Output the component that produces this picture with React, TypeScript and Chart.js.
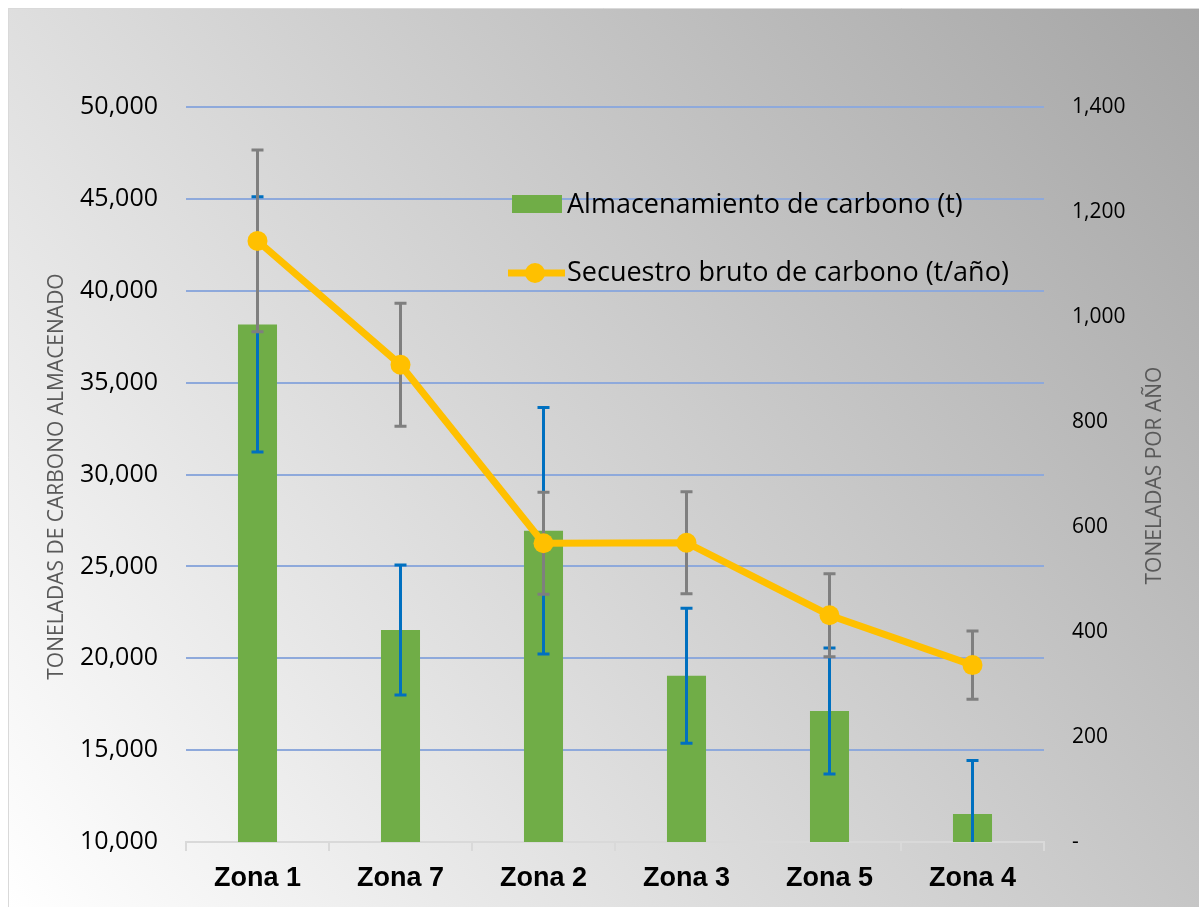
import React, { useEffect, useRef } from 'react';
import { Chart, registerables } from 'chart.js';

Chart.register(...registerables);

const categories = ['Zona 1', 'Zona 7', 'Zona 2', 'Zona 3', 'Zona 5', 'Zona 4'];
const storageValues = [38170, 21540, 26940, 19050, 17130, 11520];
const storageErrors = [6950, 3540, 6710, 3670, 3430, 2920];
const sequestrationValues = [1145, 909, 569, 570, 432, 337];
const sequestrationErrors = [173, 117, 97, 97, 79, 65];
const storageLabel = 'Almacenamiento de carbono (t)';
const sequestrationLabel = 'Secuestro bruto de carbono (t/año)';
const leftAxisTitle = 'TONELADAS DE CARBONO ALMACENADO';
const rightAxisTitle = 'TONELADAS POR AÑO';
const leftTickRange = [10000, 50000, 5000];
const rightTickRange = [0, 1400, 200];

const GREEN = '#70AD47';
const GOLD = '#FFC000';
const BLUE_ERR = '#0070C0';
const GREY_ERR = '#7F7F7F';
const SANS = '"Open Sans", "Liberation Sans", sans-serif';

const backgroundPlugin = {
  id: 'panelBackground',
  beforeDraw(chart: any) {
    const { ctx, width, height } = chart;
    ctx.save();
    const g = ctx.createLinearGradient(0, height, width, 0);
    g.addColorStop(0, '#FFFFFF');
    g.addColorStop(1, '#A5A5A5');
    ctx.fillStyle = g;
    ctx.fillRect(0, 0, width, height);
    ctx.strokeStyle = '#D9D9D9';
    ctx.lineWidth = 1;
    ctx.beginPath();
    ctx.moveTo(0.5, height);
    ctx.lineTo(0.5, 0.5);
    ctx.lineTo(width, 0.5);
    ctx.stroke();
    ctx.restore();
  },
};

const errorBarsPlugin = {
  id: 'errorBars',
  afterDatasetDraw(chart: any, args: any) {
    if (args.index !== 0) return;
    const { ctx, chartArea } = chart;
    ctx.save();
    ctx.beginPath();
    ctx.rect(chartArea.left, chartArea.top, chartArea.right - chartArea.left, chartArea.bottom - chartArea.top);
    ctx.clip();
    const draw = (dsIndex: number, values: number[], errors: number[], scaleId: string, color: string) => {
      const meta = chart.getDatasetMeta(dsIndex);
      const scale = chart.scales[scaleId];
      ctx.strokeStyle = color;
      ctx.lineWidth = 3;
      meta.data.forEach((el: any, i: number) => {
        const x = el.x;
        const yTop = scale.getPixelForValue(values[i] + errors[i]);
        const yBot = scale.getPixelForValue(values[i] - errors[i]);
        ctx.beginPath();
        ctx.moveTo(x, yTop);
        ctx.lineTo(x, yBot);
        ctx.moveTo(x - 6, yTop);
        ctx.lineTo(x + 6, yTop);
        ctx.moveTo(x - 6, yBot);
        ctx.lineTo(x + 6, yBot);
        ctx.stroke();
      });
    };
    draw(0, storageValues, storageErrors, 'y', BLUE_ERR);
    draw(1, sequestrationValues, sequestrationErrors, 'y1', GREY_ERR);
    ctx.restore();
  },
};

const annotationsPlugin = {
  id: 'titlesAndLegend',
  afterDraw(chart: any) {
    const { ctx, chartArea } = chart;
    ctx.save();
    // axis titles
    ctx.fillStyle = '#595959';
    ctx.font = `21px ${SANS}`;
    ctx.textAlign = 'center';
    ctx.textBaseline = 'middle';
    const midY = (chartArea.top + chartArea.bottom) / 2;
    ctx.save();
    ctx.translate(49, midY + 2);
    ctx.rotate(-Math.PI / 2);
    ctx.fillText(leftAxisTitle, 0, 0);
    ctx.restore();
    ctx.save();
    ctx.translate(1147, midY + 1);
    ctx.rotate(-Math.PI / 2);
    ctx.fillText(rightAxisTitle, 0, 0);
    ctx.restore();

    // legend
    const ds = chart.data.datasets;
    ctx.fillStyle = GREEN;
    ctx.fillRect(504, 187, 50, 18);
    ctx.strokeStyle = GOLD;
    ctx.lineWidth = 7;
    ctx.beginPath();
    ctx.moveTo(500, 265);
    ctx.lineTo(557, 265);
    ctx.stroke();
    ctx.fillStyle = GOLD;
    ctx.beginPath();
    ctx.arc(527, 265, 10, 0, Math.PI * 2);
    ctx.fill();
    ctx.fillStyle = '#000000';
    ctx.font = `27px ${SANS}`;
    ctx.textAlign = 'left';
    ctx.textBaseline = 'middle';
    ctx.fillText(ds[0].label, 559, 197);
    ctx.fillText(ds[1].label, 559, 265);
    ctx.restore();
  },
};

export default function App() {
  const canvasRef = useRef<HTMLCanvasElement | null>(null);

  useEffect(() => {
    const canvas = canvasRef.current;
    if (!canvas) return;
    const chart = new Chart(canvas, {
      type: 'bar',
      data: {
        labels: categories,
        datasets: [
          {
            type: 'bar',
            label: storageLabel,
            data: storageValues,
            backgroundColor: GREEN,
            borderWidth: 0,
            yAxisID: 'y',
            order: 2,
            categoryPercentage: 1,
            barPercentage: 0.273,
          },
          {
            type: 'line',
            label: sequestrationLabel,
            data: sequestrationValues,
            borderColor: GOLD,
            backgroundColor: GOLD,
            borderWidth: 7,
            pointRadius: 10,
            pointBorderWidth: 0,
            pointBackgroundColor: GOLD,
            tension: 0,
            yAxisID: 'y1',
            order: 1,
          },
        ] as any,
      },
      options: {
        responsive: false,
        animation: false,
        layout: { padding: { top: 99, left: 0, right: 0, bottom: 0 } },
        plugins: {
          legend: { display: false },
          tooltip: { enabled: false },
          title: { display: false },
        },
        scales: {
          x: {
            offset: true,
            grid: {
              display: true,
              drawOnChartArea: false,
              drawTicks: true,
              tickLength: 9,
              color: '#D9D9D9',
              lineWidth: 2,
              offset: true,
            },
            border: { display: true, color: '#D9D9D9', width: 2 },
            ticks: {
              color: '#000000',
              font: { family: '"Liberation Sans", Arial, sans-serif', size: 27, weight: 'bold' },
              padding: 11,
              maxRotation: 0,
            },
            afterFit(scale: any) {
              scale.height = 65;
            },
          },
          y: {
            position: 'left',
            min: leftTickRange[0],
            max: leftTickRange[1],
            grid: { color: '#8EA9DB', lineWidth: 2, drawTicks: false },
            border: { display: false },
            ticks: {
              stepSize: leftTickRange[2],
              color: '#000000',
              font: { family: SANS, size: 25 },
              padding: 28,
              callback: (v: any) => Number(v).toLocaleString('en-US'),
            },
            afterFit(scale: any) {
              scale.width = 178;
            },
          },
          y1: {
            position: 'right',
            min: rightTickRange[0],
            max: rightTickRange[1],
            grid: { drawOnChartArea: false, drawTicks: false },
            border: { display: false },
            ticks: {
              stepSize: rightTickRange[2],
              color: '#000000',
              font: { family: SANS, size: 21 },
              padding: 28,
              callback: (v: any) => (Number(v) === 0 ? '-' : Number(v).toLocaleString('en-US')),
            },
            afterFit(scale: any) {
              scale.width = 155;
            },
          },
        },
      } as any,
      plugins: [backgroundPlugin, errorBarsPlugin, annotationsPlugin],
    });
    return () => chart.destroy();
  }, []);

  return (
    <div style={{ position: 'fixed', left: 8, top: 8, width: 1191, height: 899 }}>
      <canvas ref={canvasRef} width={1191} height={899} style={{ width: 1191, height: 899, display: 'block' }} />
    </div>
  );
}
